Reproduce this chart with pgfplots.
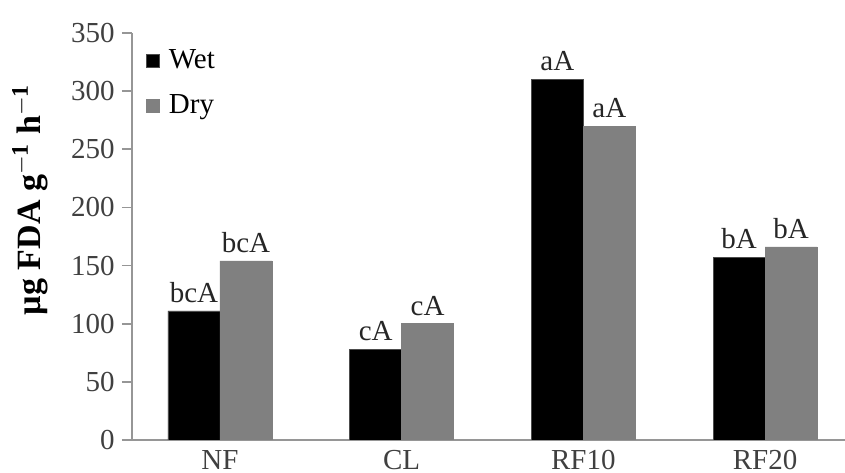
\documentclass[border=0pt]{standalone}
\usepackage{pgfplots}
\pgfplotsset{compat=1.18}
\usepackage{fontspec}
\setmainfont{Liberation Serif}
\definecolor{axgray}{RGB}{150,150,150}
\definecolor{drygray}{RGB}{128,128,128}
\begin{document}
\begin{tikzpicture}
\begin{axis}[
  name=ax,
  scale only axis,
  width=356.5pt, height=203.5pt,
  xmin=-0.484, xmax=3.44,
  ymin=0, ymax=350,
  ybar=0pt, bar width=0.286,
  xtick={0,1,2,3},
  xticklabels={NF,CL,RF10,RF20},
  ytick={0,50,...,350},
  axis lines*=left,
  axis line style={axgray, line width=1pt},
  xtick style={draw=none},
  ytick style={axgray, line width=0.8pt},
  tick align=outside,
  major tick length=5pt,
  tick label style={font=\fontsize{14.5}{16}\selectfont, text=black!75},
  xticklabel style={inner sep=3.5pt, yshift=3.5pt},
  yticklabel style={inner sep=3.5pt},
  /pgf/number format/assume math mode=true,
  ylabel={µg FDA g$^{\mathbf{-1}}$ h$^{\mathbf{-1}}$},
  ylabel style={font=\fontsize{17}{19}\selectfont\bfseries, at={(axis description cs:-0.143,0.59)}, anchor=center},
  point meta=explicit symbolic,
  nodes near coords={\pgfplotspointmeta},
  nodes near coords style={font=\fontsize{14.5}{16}\selectfont, text=black!85, inner sep=4pt, anchor=south},
  legend style={at={(axis description cs:0.01,0.98)}, anchor=north west, draw=none, fill=none,
    font=\fontsize{14.5}{16}\selectfont, row sep=7.5pt},
  legend image code/.code={\fill[#1] (0pt,-3.3pt) rectangle (6.8pt,3.3pt); \path[draw=none,fill=none] (0pt,0pt) (9.5pt,0pt);},
  legend cell align=left,
]
\addplot[fill=black, draw=black!70] coordinates {(0,111)[bcA] (1,78)[cA] (2,310)[aA] (3,157)[bA]};
\addplot[fill=drygray, draw=drygray] coordinates {(0,154)[bcA] (1,100)[cA] (2,270)[aA] (3,166)[bA]};
\legend{Wet,Dry}
\end{axis}
\pgfresetboundingbox
\path ([shift={(-66pt,-16.5pt)}]ax.south west) rectangle ([shift={(0pt,16.5pt)}]ax.north east);
\end{tikzpicture}
\end{document}
